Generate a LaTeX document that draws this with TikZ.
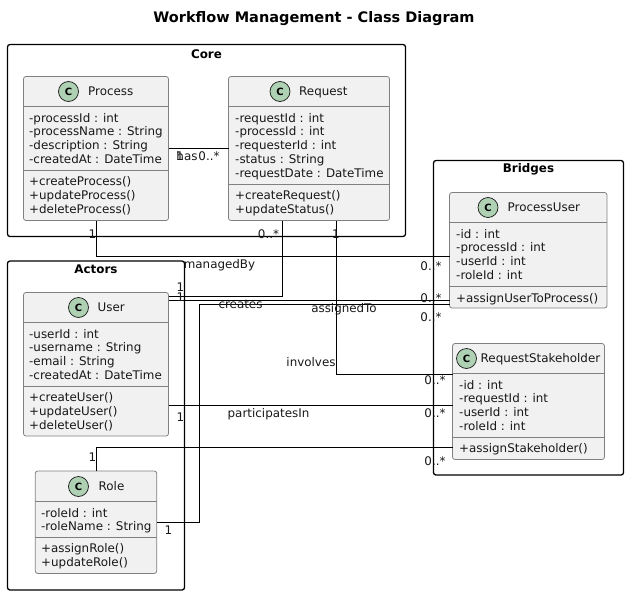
\documentclass[tikz,border=0pt]{standalone}
\usepackage{fontspec}
\setmainfont{DejaVu Sans}
\usepackage{xcolor}
\usetikzlibrary{calc, positioning}
\definecolor{boxfill}{HTML}{F1F1F1}
\definecolor{boxedge}{HTML}{808080}
\definecolor{spotfill}{HTML}{ADD1B2}
\definecolor{inktext}{HTML}{181818}

\begin{document}
\begin{tikzpicture}[x=1pt, y=-1pt]
	\tikzset{
		cluster/.style = {draw=black, line width=1.3pt, rounded corners=2.5pt},
		clustertitle/.style = {font=\fontsize{11.9}{13}\selectfont\bfseries, text=black, inner sep=0pt, yshift=-0.7pt},
		classbox/.style = {draw=boxedge, fill=boxfill, line width=0.8pt, rounded corners=2.5pt, inner sep=0pt, outer sep=0pt},
		classline/.style = {draw=boxedge, line width=0.8pt},
		spot/.style = {draw=inktext, fill=spotfill, circle, line width=0.7pt, minimum size=20pt, inner sep=0pt, font=\fontsize{10}{12}\selectfont\bfseries},
		classname/.style = {font=\fontsize{11.9}{13}\selectfont, text=inktext, inner sep=0pt, anchor=west, text height=9pt, text depth=2.5pt, yshift=-1.2pt},
		members/.style = {font=\fontsize{11.9}{13.72}\selectfont, text=inktext, inner sep=0pt, anchor=north west, align=left, yshift=-2pt},
		assoc/.style = {draw=black, line width=0.8pt},
		tag/.style = {font=\fontsize{11.9}{13}\selectfont, text=inktext, inner sep=0pt, text height=9pt, text depth=2.5pt, yshift=-1.5pt}
	}
	\useasboundingbox (0, 0) rectangle (628, 594);

	\node[font=\fontsize{14.5}{16}\selectfont\bfseries, inner sep=0pt] at (314, 18.5) (title) {Workflow Management - Class Diagram};

	% packages
	\node[cluster, minimum width=398pt, minimum height=192pt] at (206.5, 140.5) (core) {};
	\node[cluster, minimum width=177pt, minimum height=329pt] at (96, 425.5) (actors) {};
	\node[cluster, minimum width=190pt, minimum height=314.5pt] at (528.5, 317.75) (bridges) {};
	\node[clustertitle] at (206.5, 53) (coretitle) {Core};
	\node[clustertitle] at (96, 269) (actorstitle) {Actors};
	\node[clustertitle] at (528.5, 169) (bridgestitle) {Bridges};

	% classes
	\node[classbox, minimum width=145pt, minimum height=144pt] at (96, 148.5) (process) {};
	\node[classbox, minimum width=161pt, minimum height=144pt] at (309, 148.5) (request) {};
	\node[classbox, minimum width=145pt, minimum height=143.5pt] at (96, 364.25) (user) {};
	\node[classbox, minimum width=121.5pt, minimum height=102.5pt] at (96, 522.25) (role) {};
	\node[classbox, minimum width=157.5pt, minimum height=115.5pt] at (528.25, 250.25) (processuser) {};
	\node[classbox, minimum width=152pt, minimum height=116pt] at (528.5, 401.5) (stakeholder) {};

	% connectors
	\draw[assoc] (process) -- (request);
	\draw[assoc] (process.south) |- (processuser.west |- 0, 256.5);
	\draw[assoc] ([xshift=-26.5pt]request.south) |- (user.east |- 0, 296);
	\draw[assoc] ([xshift=27.5pt]request.south) |- (stakeholder.west |- 0, 374.5);
	\draw[assoc] (user.east |- 0, 300.5) -- (processuser.west |- 0, 300.5);
	\draw[assoc] (role.east |- 0, 522.5) -| (199.5, 304.5) -- (processuser.west |- 0, 304.5);
	\draw[assoc] (user.east |- 0, 405.5) -- (stakeholder.west |- 0, 405.5);
	\draw[assoc] (role.north) |- (stakeholder.west |- 0, 447.5);

	% compartments
	\foreach \cls/\ya/\yb in {process/106.5/170, request/106.5/184, user/322.5/386, role/501/537, processuser/222/286.5, stakeholder/373.5/437} {
		\draw[classline] (\cls.west |- 0, \ya) -- (\cls.east |- 0, \ya);
		\draw[classline] (\cls.west |- 0, \yb) -- (\cls.east |- 0, \yb);
	}

	% process
	\node[spot] at (68.5, 91.5) (processspot) {C};
	\node[classname] at (88, 91.5) (processname) {Process};
	\node[members] at (29, 111) (processattr) {-processId : int\\-processName : String\\-description : String\\-createdAt : DateTime};
	\node[members] at (29, 174.5) (processops) {+createProcess()\\+updateProcess()\\+deleteProcess()};

	% request
	\node[spot] at (280, 91.5) (requestspot) {C};
	\node[classname] at (299, 91.5) (requestname) {Request};
	\node[members] at (235, 111) (requestattr) {-requestId : int\\-processId : int\\-requesterId : int\\-status : String\\-requestDate : DateTime};
	\node[members] at (235, 188.5) (requestops) {+createRequest()\\+updateStatus()};

	% user
	\node[spot] at (78.5, 307.5) (userspot) {C};
	\node[classname] at (97.5, 307.5) (username) {User};
	\node[members] at (29, 327) (userattr) {-userId : int\\-username : String\\-email : String\\-createdAt : DateTime};
	\node[members] at (29, 390.5) (userops) {+createUser()\\+updateUser()\\+deleteUser()};

	% role
	\node[spot] at (78.5, 486.5) (rolespot) {C};
	\node[classname] at (98.5, 486.5) (rolename) {Role};
	\node[members] at (41, 506) (roleattr) {-roleId : int\\-roleName : String};
	\node[members] at (41, 541.5) (roleops) {+assignRole()\\+updateRole()};

	% process user
	\node[spot] at (488, 207.5) (processuserspot) {C};
	\node[classname] at (507.5, 207.5) (processusername) {ProcessUser};
	\node[members] at (456, 227) (processuserattr) {-id : int\\-processId : int\\-userId : int\\-roleId : int};
	\node[members] at (456, 291) (processuserops) {+assignUserToProcess()};

	% request stakeholder
	\node[spot] at (466.5, 358.5) (stakeholderspot) {C};
	\node[classname] at (480.5, 358.5) (stakeholdername) {RequestStakeholder};
	\node[members] at (459, 378) (stakeholderattr) {-id : int\\-requestId : int\\-userId : int\\-roleId : int};
	\node[members] at (459, 441.5) (stakeholderops) {+assignStakeholder()};

	% labels
	\foreach \nm/\px/\py/\txt in {
		lhas/187/155.5/has, lmanaged/219.5/264/managedBy, lcreates/240.5/304/creates,
		lassigned/344/308/assignedTo, linvolves/311/362/involves, lpart/268.5/413/participatesIn,
		oa/180/155.5/1, ob/92.5/234/1, oc/336/234/1, od/180.5/286.5/1, oe/180.5/297/1,
		of/180.5/416.5/1, og/92.5/457/1, oh/168.5/530/1,
		ma/209/155.5/0..*, mb/268.5/234/0..*, mc/431/265.5/0..*, md/431/298/0..*,
		me/431/316.5/0..*, mf/435/379.5/0..*, mg/435/412.5/0..*, mh/435/460.5/0..*} {
		\node[tag] at (\px, \py) (\nm) {\txt};
	}
\end{tikzpicture}
\end{document}
